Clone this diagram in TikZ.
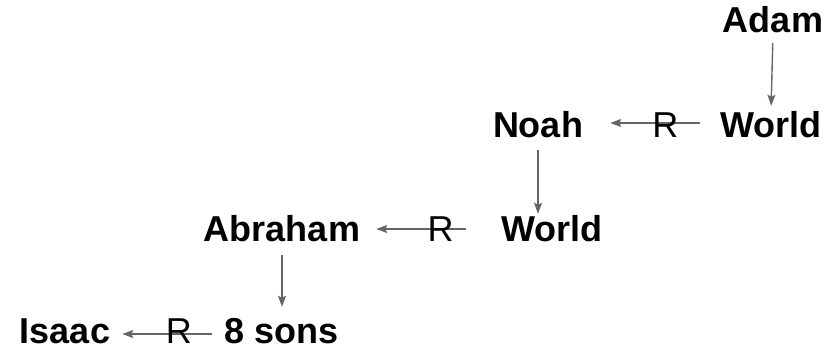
\documentclass[tikz,border=0pt]{standalone}
\usepackage{fontspec}
\setmainfont{Liberation Sans}
\usetikzlibrary{arrows.meta}
\definecolor{arrowgray}{HTML}{666666}
\begin{document}
\begin{tikzpicture}[x=1pt,y=1pt,
  lbl/.style={font=\fontsize{36}{40}\selectfont\bfseries, inner sep=0pt, text height=26pt, text depth=0pt, anchor=base},
  rlbl/.style={font=\fontsize{36}{40}\selectfont, inner sep=0pt, text height=26pt, text depth=0pt},
  conn/.style={draw=arrowgray, line width=1.4pt, -{Stealth[length=11pt,width=8pt,inset=2pt]}}
]
\useasboundingbox (0,0) rectangle (838,355);
\node[lbl] (adam) at (773,322) {Adam};
\node[lbl] (w1) at (771,217) {World};
\node[lbl] (noah) at (538,217) {Noah};
\node[lbl] (w2) at (552,113) {World};
\node[lbl] (abraham) at (282,113) {Abraham};
\node[lbl] (sons) at (282,11) {8 sons};
\node[lbl] (isaac) at (65,11) {Isaac};

\draw[conn, shorten <=10pt, shorten >=6pt] (adam.south) -- (w1.north);
\draw[conn, shorten <=20pt, shorten >=27pt] ([yshift=2pt]w1.west) -- ([yshift=2pt]noah.east)
  node[rlbl, pos=0.4, yshift=-2pt] (r1) {R};
\draw[conn, shorten <=12pt, shorten >=2pt] (noah.south) -- (noah.south |- w2.north);
\draw[conn, shorten <=35pt, shorten >=16pt] (w2.west) -- (abraham.east)
  node[rlbl, pos=0.43] (r2) {R};
\draw[conn, shorten <=13pt, shorten >=11pt] (abraham.south) -- (abraham.south |- sons.north);
\draw[conn, shorten <=13pt, shorten >=12pt] ([yshift=-3pt]sons.west) -- ([yshift=-3pt]isaac.east)
  node[rlbl, pos=0.4, yshift=3pt] (r3) {R};
\end{tikzpicture}
\end{document}
